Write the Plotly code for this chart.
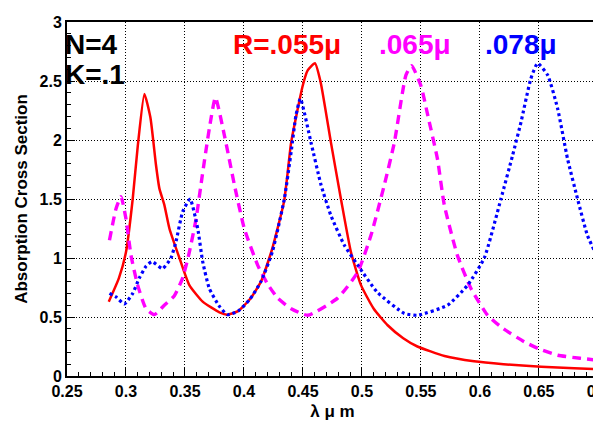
import plotly.graph_objects as go

# R = .055 micron (red, solid)
lam_r = [0.2854, 0.294, 0.300, 0.3057, 0.310, 0.3156, 0.3207, 0.3254, 0.3283, 0.3325,
         0.3368, 0.3453, 0.3537, 0.365, 0.3792, 0.386, 0.395, 0.405, 0.4144, 0.424,
         0.434, 0.437, 0.440, 0.4498, 0.454, 0.4602, 0.465, 0.4737, 0.4822, 0.4907, 0.4992,
         0.510, 0.5218, 0.535, 0.547, 0.570, 0.595, 0.620, 0.652, 0.680, 0.700]
abs_r = [0.63, 0.83, 1.05, 1.50, 1.95, 2.39, 2.19, 1.79, 1.59, 1.45,
         1.25, 1.00, 0.77, 0.63, 0.54, 0.52, 0.55, 0.65, 0.80, 1.08,
         1.48, 1.72, 1.98, 2.46, 2.59, 2.65, 2.49, 1.98, 1.50, 1.05, 0.77,
         0.57, 0.43, 0.32, 0.25, 0.17, 0.125, 0.10, 0.078, 0.065, 0.058]

# R = .065 micron (magenta, dashed)
lam_m = [0.286, 0.2916, 0.2958, 0.300, 0.3043, 0.3099, 0.317, 0.324, 0.3325, 0.341,
         0.348, 0.3537, 0.3594, 0.3644, 0.3707, 0.3758, 0.3834, 0.3919, 0.4003, 0.4116,
         0.420, 0.4286, 0.440, 0.454, 0.4794, 0.4964, 0.5076, 0.519, 0.5275, 0.5373,
         0.5421, 0.550, 0.556, 0.564, 0.5698, 0.581, 0.5925, 0.6065, 0.620, 0.6376,
         0.650, 0.666, 0.685, 0.700]
abs_m = [1.15, 1.42, 1.52, 1.33, 1.02, 0.77, 0.57, 0.52, 0.60, 0.68,
         0.83, 1.05, 1.33, 1.68, 2.10, 2.36, 2.04, 1.62, 1.25, 0.94,
         0.78, 0.66, 0.57, 0.515, 0.66, 0.88, 1.19, 1.62, 1.98, 2.55,
         2.63, 2.46, 2.20, 1.84, 1.45, 1.02, 0.74, 0.515, 0.40, 0.29,
         0.23, 0.176, 0.15, 0.134]

# R = .078 micron (blue, dotted)
lam_b = [0.286, 0.2916, 0.2986, 0.3057, 0.3113, 0.317, 0.322, 0.331, 0.3381, 0.3424,
         0.348, 0.3543, 0.3608, 0.365, 0.3707, 0.3792, 0.386, 0.395, 0.405, 0.4144,
         0.424, 0.4342, 0.440, 0.4441, 0.4478, 0.4568, 0.4653, 0.4737, 0.485, 0.4964,
         0.513, 0.536, 0.547, 0.5726, 0.5896, 0.6037, 0.6178, 0.6277, 0.6348, 0.6432,
         0.6489, 0.6574, 0.6658, 0.6743, 0.6828, 0.6912, 0.700]
abs_b = [0.70, 0.67, 0.61, 0.70, 0.83, 0.93, 0.97, 0.91, 1.00, 1.14,
         1.39, 1.50, 1.25, 0.97, 0.74, 0.59, 0.52, 0.55, 0.65, 0.80,
         1.05, 1.50, 1.90, 2.21, 2.35, 1.98, 1.62, 1.36, 1.11, 0.94,
         0.71, 0.53, 0.515, 0.60, 0.77, 1.00, 1.50, 1.87, 2.15, 2.52,
         2.65, 2.55, 2.27, 1.84, 1.50, 1.19, 1.00]

x_ticks = [0.25, 0.3, 0.35, 0.4, 0.45, 0.5, 0.55, 0.6, 0.65, 0.7]
x_tick_text = ["0.25", "0.3", "0.35", "0.4", "0.45", "0.5", "0.55", "0.6", "0.65", "0.7"]
y_ticks = [0, 0.5, 1, 1.5, 2, 2.5, 3]
y_tick_text = ["0", "0.5", "1", "1.5", "2", "2.5", "3"]

FONT = "Liberation Sans, Arial, Helvetica, sans-serif"

fig = go.Figure()
fig.add_trace(go.Scatter(x=lam_r, y=abs_r, mode="lines",
                         line=dict(color="#ff0000", width=2.5, shape="spline", smoothing=0.5)))
fig.add_trace(go.Scatter(x=lam_m, y=abs_m, mode="lines",
                         line=dict(color="#ff00ff", width=3.4, dash="9px,6px",
                                   shape="spline", smoothing=0.5)))
fig.add_trace(go.Scatter(x=lam_b, y=abs_b, mode="lines",
                         line=dict(color="#0000ff", width=3.2, dash="3px,3px",
                                   shape="spline", smoothing=0.5)))

# (text, x, xref, y, colour)
ann = [
    ("N=4", -0.008, "paper", 2.81, "black"),
    ("K=.1", -0.008, "paper", 2.555, "black"),
    ("R=.055\u03bc", 0.3890, "x", 2.81, "#ff0000"),
    (".065\u03bc", 0.5125, "x", 2.81, "#ff00ff"),
    (".078\u03bc", 0.6029, "x", 2.81, "#0000ff"),
]
for t, ax_, xr, ay_, c in ann:
    fig.add_annotation(x=ax_, y=ay_, xref=xr, yref="y", text="<b>" + t + "</b>",
                       showarrow=False, xanchor="left", yanchor="middle",
                       font=dict(family=FONT, size=28, color=c))

axis_common = dict(
    showline=True, linecolor="black", linewidth=2, mirror=True,
    ticks="inside", tickcolor="black", tickwidth=1, ticklen=8,
    showgrid=True, gridcolor="black", gridwidth=1, griddash="1px,2px",
    zeroline=False, ticklabeloverflow="allow",
    tickfont=dict(family=FONT, size=16, color="black", weight="bold"),
)

fig.update_xaxes(range=[0.25, 0.7001], tickvals=x_ticks, ticktext=x_tick_text,
                 minor=dict(ticks="inside", ticklen=4, dtick=0.01, tick0=0.25,
                            tickcolor="black", showgrid=False),
                 title=dict(text="<b>\u03bb \u03bc m</b>", standoff=6,
                            font=dict(family=FONT, size=17, color="black")),
                 **axis_common)
fig.update_yaxes(range=[0, 3], tickvals=y_ticks, ticktext=y_tick_text,
                 minor=dict(ticks="inside", ticklen=4, dtick=0.1, tick0=0,
                            tickcolor="black", showgrid=False),
                 title=dict(text="<b>Absorption Cross Section</b>", standoff=8,
                            font=dict(family=FONT, size=17, color="black")),
                 **axis_common)

fig.update_layout(
    width=601, height=423,
    margin=dict(l=59, r=11, t=14, b=55, autoexpand=False),
    paper_bgcolor="white", plot_bgcolor="white",
    showlegend=False,
    font=dict(family=FONT, color="black"),
)

fig.write_html("out.html")
